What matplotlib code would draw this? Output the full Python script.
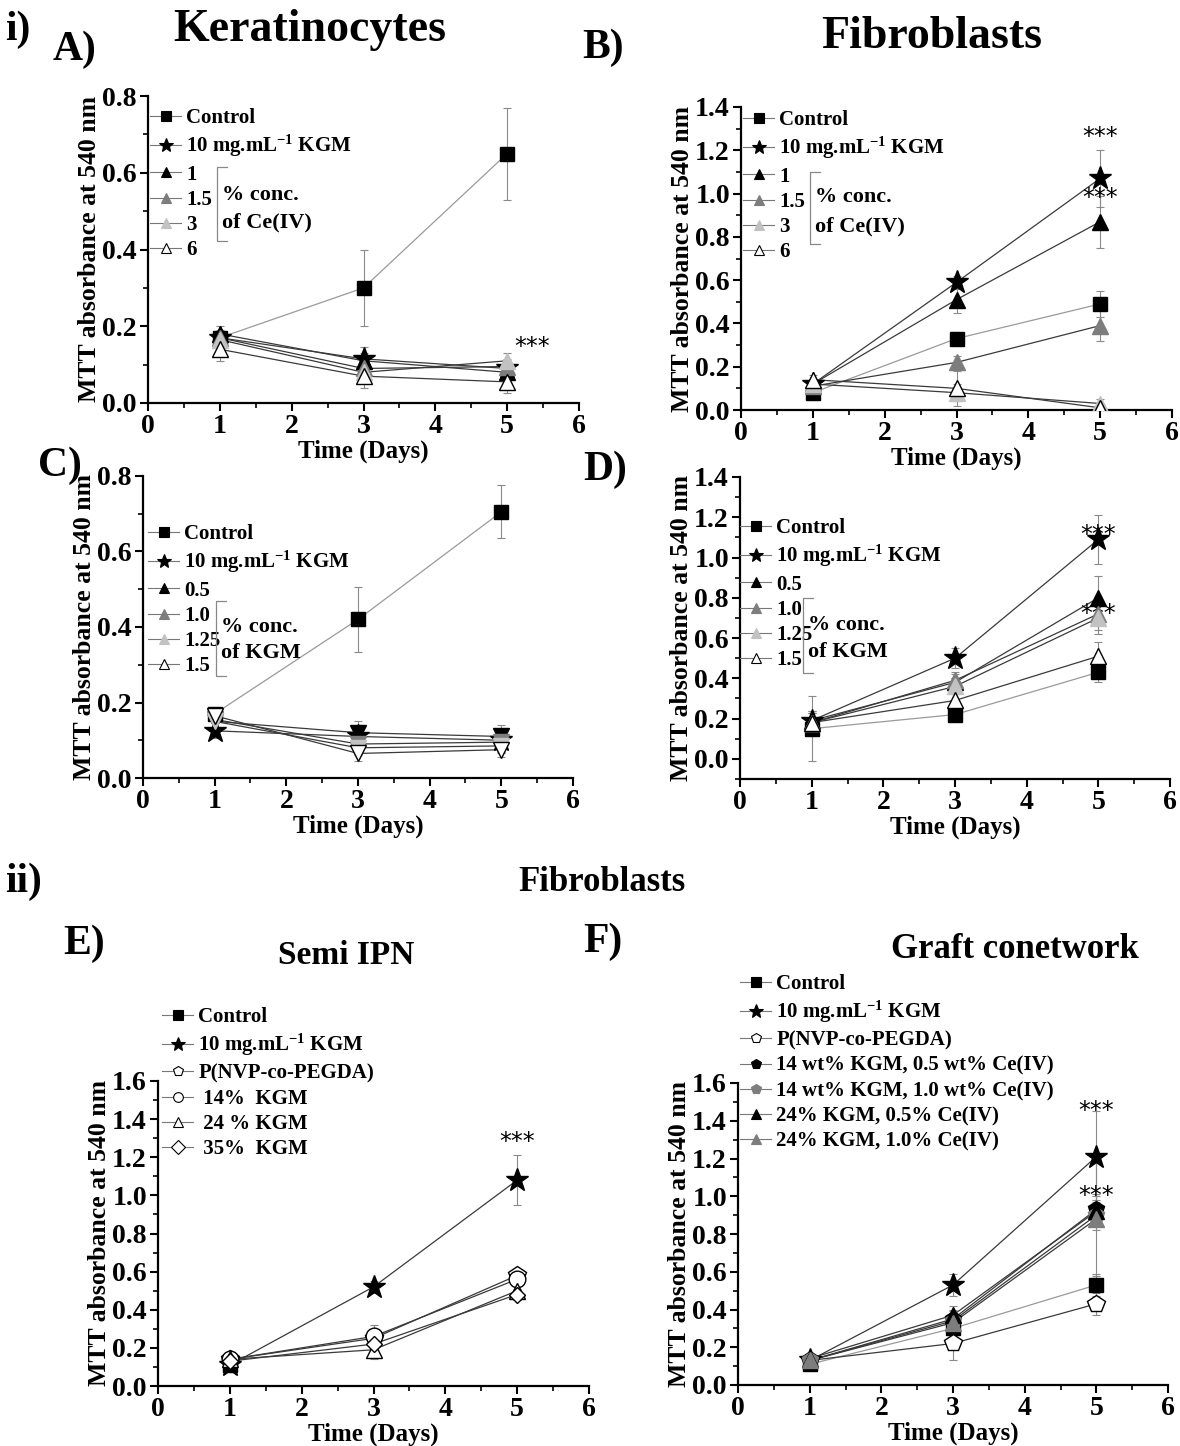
import numpy as np
import matplotlib.pyplot as plt
from matplotlib.lines import Line2D
from matplotlib.ticker import MultipleLocator

plt.rcParams['font.family'] = ['Liberation Serif', 'DejaVu Serif']
plt.rcParams['font.weight'] = 'bold'
plt.rcParams['axes.labelweight'] = 'bold'
plt.rcParams['mathtext.default'] = 'regular'

W, H = 1180, 1446
days = [1, 3, 5]
kgm_lab = r'10 mg.mL$^{-1}$ KGM'

# A) keratinocytes, % conc. of Ce(IV)
a_labels = ['Control', kgm_lab, '1', '1.5', '3', '6']
a_mean = [[0.17, 0.30, 0.65], [0.17, 0.115, 0.09], [0.18, 0.11, 0.08],
          [0.17, 0.09, 0.095], [0.165, 0.08, 0.11], [0.14, 0.07, 0.055]]
a_err = [[0.01, 0.10, 0.12], [0.01, 0.03, 0.01], [0.02, 0.02, 0.02],
         [0.02, 0.02, 0.02], [0.02, 0.02, 0.02], [0.03, 0.03, 0.03]]

# B) fibroblasts, % conc. of Ce(IV)
b_labels = a_labels
b_mean = [[0.08, 0.33, 0.49], [0.12, 0.59, 1.07], [0.12, 0.51, 0.87],
          [0.11, 0.22, 0.39], [0.12, 0.08, 0.03], [0.14, 0.10, 0.01]]
b_err = [[0.02, 0.03, 0.06], [0.02, 0.03, 0.13], [0.02, 0.06, 0.12],
         [0.02, 0.03, 0.07], [0.02, 0.04, 0.02], [0.02, 0.08, 0.02]]

# C) keratinocytes, % conc. of KGM
c_labels = ['Control', kgm_lab, '0.5', '1.0', '1.25', '1.5']
c_mean = [[0.17, 0.42, 0.705], [0.125, 0.11, 0.10], [0.15, 0.12, 0.11],
          [0.155, 0.09, 0.095], [0.15, 0.08, 0.085], [0.165, 0.065, 0.075]]
c_err = [[0.01, 0.085, 0.07], [0.02, 0.03, 0.03], [0.02, 0.03, 0.03],
         [0.02, 0.02, 0.02], [0.02, 0.02, 0.02], [0.02, 0.02, 0.02]]

# D) fibroblasts, % conc. of KGM
d_labels = ['Control', kgm_lab, '0.5', '1.0', '1.25', '1.5']
d_mean = [[0.15, 0.22, 0.43], [0.19, 0.50, 1.09], [0.19, 0.38, 0.80],
          [0.18, 0.39, 0.72], [0.18, 0.36, 0.70], [0.18, 0.29, 0.51]]
d_err = [[0.16, 0.03, 0.05], [0.05, 0.05, 0.12], [0.05, 0.04, 0.11],
         [0.05, 0.04, 0.08], [0.05, 0.04, 0.08], [0.05, 0.04, 0.07]]

# E) semi IPN
e_labels = ['Control', kgm_lab, 'P(NVP-co-PEGDA)', ' 14%  KGM', ' 24 % KGM', ' 35%  KGM']
e_mean = [[0.11, np.nan, np.nan], [0.11, 0.52, 1.08], [0.14, 0.25, 0.58],
          [0.14, 0.26, 0.56], [0.14, 0.19, 0.50], [0.13, 0.22, 0.48]]
e_err = [[0.01, 0, 0], [0.02, 0.03, 0.13], [0.02, 0.05, 0.03],
         [0.02, 0.06, 0.03], [0.02, 0.05, 0.03], [0.02, 0.04, 0.03]]

# F) graft conetwork
f_labels = ['Control', kgm_lab, 'P(NVP-co-PEGDA)', '14 wt% KGM, 0.5 wt% Ce(IV)',
            '14 wt% KGM, 1.0 wt% Ce(IV)', '24% KGM, 0.5% Ce(IV)', '24% KGM, 1.0% Ce(IV)']
f_mean = [[0.11, 0.30, 0.53], [0.13, 0.53, 1.21], [0.13, 0.22, 0.43],
          [0.13, 0.35, 0.93], [0.13, 0.34, 0.90], [0.14, 0.37, 0.92], [0.13, 0.33, 0.88]]
f_err = [[0.02, 0.03, 0.06], [0.03, 0.06, 0.24], [0.02, 0.09, 0.06],
         [0.02, 0.05, 0.08], [0.02, 0.05, 0.08], [0.02, 0.05, 0.08], [0.02, 0.05, 0.30]]

BLK, DGR, LGR, WHT = 'black', '#7d7d7d', '#c2c2c2', 'white'
# marker, face, edge, size
ST = {
    'sq': ('s', BLK, BLK, 10), 'star': ('*', BLK, BLK, 17),
    'tk': ('^', BLK, BLK, 12), 'td': ('^', DGR, DGR, 12),
    'tl': ('^', LGR, LGR, 12), 'tw': ('^', WHT, BLK, 12),
    'pw': ('p', WHT, BLK, 13), 'pk': ('p', BLK, BLK, 12), 'pg': ('p', DGR, DGR, 12),
    'cw': ('o', WHT, BLK, 12), 'dw': ('D', WHT, BLK, 8),
}
kinds_ce = ['sq', 'star', 'tk', 'td', 'tl', 'tw']
kinds_e = ['sq', 'star', 'pw', 'cw', 'tw', 'dw']
kinds_f = ['sq', 'star', 'pw', 'pk', 'pg', 'tk', 'td']

fig = plt.figure(figsize=(W / 100, H / 100), dpi=100)


def fx(x):
    return x / W


def fy(y):
    return 1 - y / H


def panel(box, ylim, ymax, labels, means, errs, kinds, leg_xy, stars, flip=False):
    x0, y0, x1, y1 = box
    ax = fig.add_axes([fx(x0), fy(y1), (x1 - x0) / W, (y1 - y0) / H])
    for i, (m, e, k) in enumerate(zip(means, errs, kinds)):
        mk, fc, ec, ms = ST[k]
        if flip and mk == '^' and i > 1:
            mk = 'v'
        lc = '#9a9a9a' if i == 0 else '#3a3a3a'
        ax.errorbar(days, m, yerr=e, fmt='none', ecolor='#8a8a8a', elinewidth=0.8,
                    capsize=3, capthick=0.8, zorder=2)
        ax.plot(days, m, color=lc, lw=0.9, zorder=3)
        ax.plot(days, m, ls='none', marker=mk, ms=ms, mfc=fc, mec=ec, mew=1.0, zorder=4 + i)
    handles = []
    for k in kinds:
        mk, fc, ec, ms = ST[k]
        handles.append(Line2D([], [], color='#777777', lw=0.8, marker=mk, mfc=fc, mec=ec,
                              ms=7 if mk != '*' else 10, mew=0.8))
    ax.legend(handles, labels, loc='upper left', bbox_to_anchor=(fx(leg_xy[0]), fy(leg_xy[1])),
              bbox_transform=fig.transFigure, frameon=False, borderpad=0, borderaxespad=0,
              handlelength=1.5, handletextpad=0.25, labelspacing=0.25,
              prop={'family': 'Liberation Serif', 'weight': 'bold', 'size': 15})
    for sx, sy in stars:
        ax.text(sx, sy, '***', ha='center', va='center', fontsize=17,
                family='DejaVu Sans', fontweight='normal')
    ax.set_xlim(0, 6)
    ax.set_ylim(*ylim)
    ax.set_yticks(np.arange(0, ymax + 0.01, 0.2))
    ax.xaxis.set_major_locator(MultipleLocator(1))
    ax.xaxis.set_minor_locator(MultipleLocator(0.5))
    ax.yaxis.set_minor_locator(MultipleLocator(0.1))
    for s in ['top', 'right']:
        ax.spines[s].set_visible(False)
    for s in ['left', 'bottom']:
        ax.spines[s].set_linewidth(1.6)
    ax.spines['left'].set_bounds(ylim[0], ymax)
    ax.tick_params(which='major', direction='out', length=6, width=1.5, labelsize=20, pad=2)
    ax.tick_params(which='minor', direction='out', length=3.5, width=1.2)
    ax.set_ylabel('MTT absorbance at 540 nm', fontsize=18.5, labelpad=1)
    ax.set_xlabel('Time (Days)', fontsize=18, labelpad=0)
    return ax


def bracket(x, ytop, ybot, t1, t2, ty1, ty2):
    fig.add_artist(Line2D([fx(x + 10), fx(x), fx(x), fx(x + 10)],
                          [fy(ytop), fy(ytop), fy(ybot), fy(ybot)],
                          color='#888888', lw=0.9))
    fig.text(fx(x + 5), fy(ty1), t1, fontsize=16, va='center', ha='left')
    fig.text(fx(x + 5), fy(ty2), t2, fontsize=16, va='center', ha='left')


axA = panel((148, 96, 579, 403), (0, 0.8), 0.8, a_labels, a_mean, a_err, kinds_ce,
            (150, 108), [(5.35, 0.145)])
bracket(217, 167, 241, '% conc.', 'of Ce(IV)', 195, 222)

axB = panel((741, 107, 1172, 410), (0, 1.4), 1.4, b_labels, b_mean, b_err, kinds_ce,
            (743, 110), [(5.0, 1.26), (5.0, 0.98)])
bracket(810, 172, 244, '% conc.', 'of Ce(IV)', 197, 226)

axC = panel((143, 476, 573, 778), (0, 0.8), 0.8, c_labels, c_mean, c_err, kinds_ce,
            (148, 524), [], flip=True)
bracket(216, 601, 676, '% conc.', 'of KGM', 627, 653)

axD = panel((740, 477, 1170, 779), (-0.1, 1.4), 1.4, d_labels, d_mean, d_err, kinds_ce,
            (740, 518), [(5.0, 1.11), (5.0, 0.72)])
bracket(803, 598, 673, '% conc.', 'of KGM', 625, 652)

axE = panel((158, 1081, 589, 1386), (0, 1.6), 1.6, e_labels, e_mean, e_err, kinds_e,
            (162, 1007), [(5.0, 1.28)])

axF = panel((738, 1083, 1168, 1385), (0, 1.6), 1.6, f_labels, f_mean, f_err, kinds_f,
            (740, 974), [(5.0, 1.45), (5.0, 1.0)])

# panel titles
tk = dict(fontweight='bold', va='center')
fig.text(fx(5), fy(30), 'i)', fontsize=30, **tk)
fig.text(fx(53), fy(50), 'A)', fontsize=30, **tk)
fig.text(fx(310), fy(30), 'Keratinocytes', fontsize=33, ha='center', **tk)
fig.text(fx(582), fy(48), 'B)', fontsize=30, **tk)
fig.text(fx(932), fy(37), 'Fibroblasts', fontsize=33, ha='center', **tk)
fig.text(fx(38), fy(466), 'C)', fontsize=30, **tk)
fig.text(fx(583), fy(470), 'D)', fontsize=30, **tk)
fig.text(fx(5), fy(882), 'ii)', fontsize=30, **tk)
fig.text(fx(602), fy(882), 'Fibroblasts', fontsize=25, ha='center', **tk)
fig.text(fx(63), fy(944), 'E)', fontsize=30, **tk)
fig.text(fx(346), fy(955), 'Semi IPN', fontsize=24, ha='center', **tk)
fig.text(fx(583), fy(942), 'F)', fontsize=30, **tk)
fig.text(fx(1015), fy(950), 'Graft conetwork', fontsize=25, ha='center', **tk)

fig.savefig('out.png', dpi=100)
